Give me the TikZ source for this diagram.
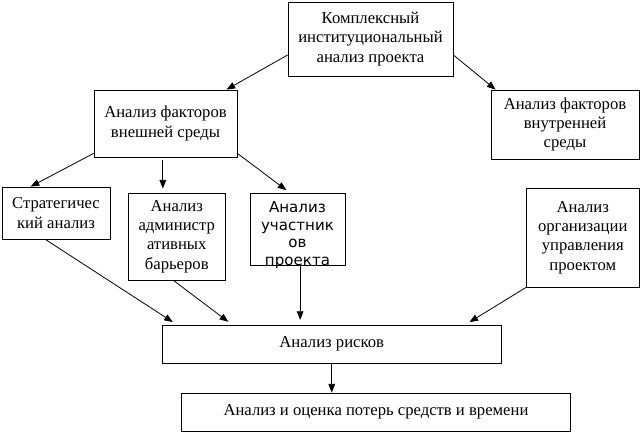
\documentclass[tikz,border=0pt]{standalone}
\usepackage{fontspec}
\setmainfont{Liberation Serif}
\newfontfamily\partfont{DejaVu Sans}
\usetikzlibrary{arrows.meta}

\begin{document}
\begin{tikzpicture}[x=0.75pt, y=-0.75pt,
	box/.style={draw, line width=0.6pt, align=center, inner sep=0pt,
		font=\fontsize{12.5}{14.5}\selectfont},
	arr/.style={line width=0.6pt, -{Triangle[length=6.5pt, width=5pt]}}]

	\useasboundingbox (0,0) rectangle (640,432);

	%top level of the analysis
	\node[box, minimum width=123.75pt, minimum height=55.5pt] (top) at (370.5,39) {Комплексный\\институциональный\\анализ проекта};
	\node[box, minimum width=107.25pt, minimum height=50.25pt] (ext) at (165.5,123.5) {Анализ факторов\\внешней среды};
	\node[box, minimum width=111pt, minimum height=51.75pt] (int) at (565,124.5) {Анализ факторов\\внутренней\\среды};

	%factors of the external environment
	\node[box, minimum width=81pt, minimum height=39pt] (strat) at (56,213) {Стратегичес\\кий анализ};
	\node[box, minimum width=72.4pt, minimum height=65.25pt] (admin) at (176.75,236.5) {Анализ\\администр\\ативных\\барьеров};
	\node[box, minimum width=71.25pt, minimum height=54pt] (part) at (297.5,229) {};
	\node[align=center, inner sep=0pt, font=\partfont\fontsize{11.3}{13.3}\selectfont] (parttext) at (297.5,235) {Анализ\\участник\\ов\\проекта};
	\node[box, minimum width=84.4pt, minimum height=74.25pt] (org) at (582.75,237.5) {Анализ\\организации\\управления\\проектом};

	%risks and losses
	\node[box, minimum width=253.9pt, minimum height=28.5pt] (risk) at (331.75,344) {Анализ рисков};
	\node[box, minimum width=291.75pt, minimum height=28.5pt] (loss) at (376,412) {Анализ и оценка потерь средств и времени};

	%arrows from the top box
	\draw[arr] ([yshift=-12pt]top.west) -- ([xshift=45.75pt]ext.north);
	\draw[arr] ([yshift=-12pt]top.east) -- ([xshift=3.75pt]int.north west);

	%arrows from the external factors
	\draw[arr] ([yshift=3pt]ext.south west) -- ([xshift=21.75pt]strat.north west);
	\draw[arr, shorten >=3pt] ([xshift=-2pt, yshift=-2pt]ext.south) -- ([xshift=-2pt]ext.south |- admin.north);
	\draw[arr, shorten >=3pt] ([yshift=3pt]ext.south east) -- ([xshift=30pt]part.north west);

	%arrows into the risk analysis
	\draw[arr, shorten >=3.5pt] ([xshift=-8pt]strat.south) -- ([xshift=11pt]risk.north west);
	\draw[arr, shorten >=3.5pt] ([xshift=-2.5pt]admin.south) -- ([xshift=52.5pt]risk.north west);
	\draw[arr, shorten >=3.5pt] ([xshift=2pt]part.south) -- ([xshift=2pt]part.south |- risk.north);
	\draw[arr, shorten >=3.5pt] (org.south west) -- ([xshift=-27pt]risk.north east);
	\draw[arr] (risk.south) -- (risk.south |- loss.north);

\end{tikzpicture}
\end{document}
